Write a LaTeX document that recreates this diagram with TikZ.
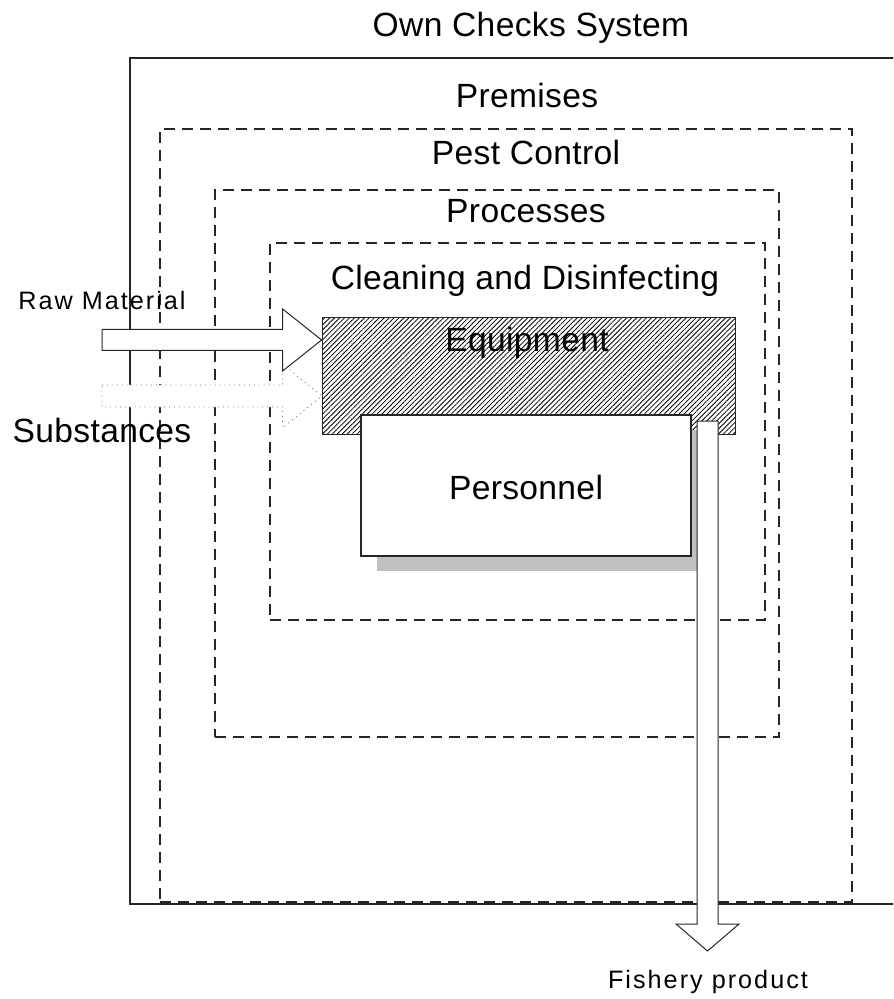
\documentclass[tikz,border=0pt]{standalone}
\usepackage{fontspec}
\setmainfont{Liberation Sans}
\newfontfamily\bigfont{Liberation Sans}[LetterSpace=1]
\newfontfamily\smallfont{Liberation Sans}[LetterSpace=8]
\usetikzlibrary{positioning, fit, backgrounds, patterns.meta, shadows}
\definecolor{shadowgray}{RGB}{192,192,192}

\begin{document}
\begin{tikzpicture}[x=0.5pt, y=-0.5pt,
    % Styles
    solidbox/.style={draw=black!85, line width=0.8pt, inner sep=0pt},
    dashbox/.style={draw=black!85, line width=1pt, dash pattern=on 5.5pt off 3.5pt, inner sep=0pt},
    hatchbox/.style={draw=black!85, line width=0.5pt, inner sep=0pt, pattern={Lines[angle=45, distance=1.75pt, line width=0.4pt]}},
    staffbox/.style={draw=black!85, line width=0.6pt, fill=white, inner sep=0pt, drop shadow={shadow xshift=8pt, shadow yshift=-7.5pt, fill=shadowgray, opacity=1}},
    biglabel/.style={font=\bigfont\fontsize{16.8}{19}\selectfont, anchor=base, inner sep=0pt},
    smalllabel/.style={font=\smallfont\fontsize{12.6}{14}\selectfont, anchor=base, inner sep=0pt},
    flow/.style={draw=black!85, line width=0.5pt, fill=white},
    dotflow/.style={draw=black!55, line width=0.45pt, dotted, fill=white}
  ]
  \clip (0,0) rectangle (893,999);

  % Nested areas
  \node [solidbox, fit={(130,58) (905,904)}] (owncheck) {};
  \node [dashbox, fit={(160,129) (852,902)}] (pest) {};
  \node [dashbox, fit={(215,190) (779,737)}] (proc) {};
  \node [dashbox, fit={(270,243) (765,620)}] (clean) {};

  % Area labels
  \node [biglabel] (lblown) at (531,37) {Own Checks System};
  \node [biglabel] (lblpremises) at (527,108) {Premises};
  \node [biglabel] (lblpest) at (526,165) {Pest Control};
  \node [biglabel] (lblproc) at (526,223) {Processes};
  \node [biglabel] (lblclean) at (525,290) {Cleaning and Disinfecting};

  % Equipment
  \node [hatchbox, fit={(322,318) (735,434)}] (equip) {};
  \node [biglabel] (lblequip) at (527,352) {Equipment};

  % Personnel
  \node [staffbox, fit={(361,415) (691,556)}] (staff) {};
  \node [biglabel] (lblstaff) at (526,499) {Personnel};

  % Inputs
  \coordinate (subin) at (102,396);
  \coordinate (subtip) at (equip.west |- subin);
  \draw [dotflow] ([yshift=5.5pt]subin) -- ([xshift=-19.5pt, yshift=5.5pt]subtip) -- ([xshift=-19.5pt, yshift=16pt]subtip) -- (subtip)
    -- ([xshift=-19.5pt, yshift=-16pt]subtip) -- ([xshift=-19.5pt, yshift=-5.5pt]subtip) -- ([yshift=-5.5pt]subin) -- cycle;
  \node [biglabel] (lblsub) at (102,442) {Substances};

  \coordinate (rawin) at (102,340);
  \coordinate (rawtip) at (equip.west |- rawin);
  \draw [flow] ([yshift=5.25pt]rawin) -- ([xshift=-19.5pt, yshift=5.25pt]rawtip) -- ([xshift=-19.5pt, yshift=15.5pt]rawtip) -- (rawtip)
    -- ([xshift=-19.5pt, yshift=-15.5pt]rawtip) -- ([xshift=-19.5pt, yshift=-5.25pt]rawtip) -- ([yshift=-5.25pt]rawin) -- cycle;
  \node [smalllabel] (lblraw) at (102,310) {Raw Material};

  % Output
  \coordinate (fishtop) at (707.5,421);
  \coordinate (fishtip) at (707.5,951);
  \draw [flow] ([xshift=-5.25pt]fishtop) -- ([xshift=-5.25pt, yshift=13.5pt]fishtip) -- ([xshift=-15.75pt, yshift=13.5pt]fishtip) -- (fishtip)
    -- ([xshift=15.75pt, yshift=13.5pt]fishtip) -- ([xshift=5.25pt, yshift=13.5pt]fishtip) -- ([xshift=5.25pt]fishtop) -- cycle;
  \node [smalllabel] (lblfish) at (708,988) {Fishery product};

\end{tikzpicture}
\end{document}
